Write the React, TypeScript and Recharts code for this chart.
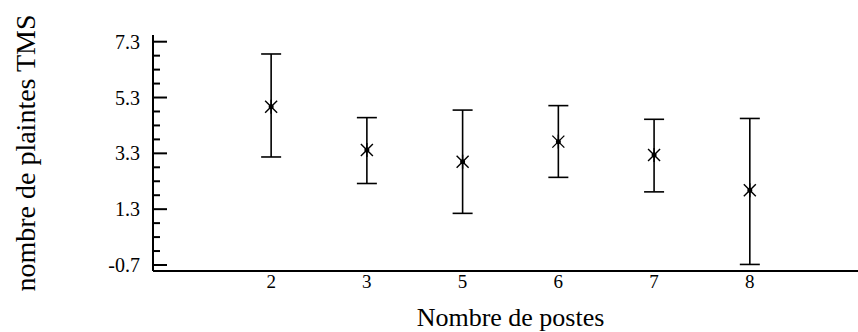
import React from 'react';
import { ScatterChart, Scatter, XAxis, YAxis, ErrorBar, Label } from 'recharts';

const categories = ['2', '3', '5', '6', '7', '8'];
const means = [4.97, 3.42, 3.0, 3.72, 3.24, 1.98];
const lows = [3.17, 2.22, 1.15, 2.44, 1.92, -0.68];
const highs = [6.86, 4.58, 4.85, 5.01, 4.52, 4.55];
const majorTicks = [-0.7, 1.3, 3.3, 5.3, 7.3];
const minorTicks = [-0.2, 0.3, 0.8, 1.8, 2.3, 2.8, 3.8, 4.3, 4.8, 5.8, 6.3, 6.8];
const yDomain: [number, number] = [-0.915, 7.54];
const xDomain: [number, number] = [-1.234, 6.13];
const xTitle = 'Nombre de postes';
const yTitle = 'nombre de plaintes TMS';

const FONT = '"Liberation Serif", "Times New Roman", serif';

const data = categories.map((c, i) => ({
  x: i,
  y: means[i],
  err: [means[i] - lows[i], highs[i] - means[i]],
}));

const allYTicks = [...majorTicks, ...minorTicks].sort((a, b) => a - b);
const isMajor = (v: number) => majorTicks.some((m) => Math.abs(m - v) < 1e-6);

const LeftTick = (props: any) => {
  const { x, y, payload } = props;
  const axisX = x + 13;
  const major = isMajor(payload.value);
  return (
    <g>
      <line x1={axisX} y1={y} x2={axisX + (major ? 14 : 7)} y2={y} stroke="#000" strokeWidth={2} />
      {major && (
        <text x={x} y={y} textAnchor="end" dominantBaseline="central" fontFamily={FONT} fontSize={20} fill="#000">
          {payload.value.toFixed(1)}
        </text>
      )}
    </g>
  );
};

const RightTick = (props: any) => {
  const { x, y } = props;
  const axisX = x - 4;
  return <line x1={axisX - 5} y1={y} x2={axisX} y2={y} stroke="#000" strokeWidth={2} />;
};

const BottomTick = (props: any) => {
  const { x, y, payload } = props;
  return (
    <text x={x} y={y} textAnchor="middle" dy="0.71em" fontFamily={FONT} fontSize={19} fill="#000">
      {categories[payload.value]}
    </text>
  );
};

const Asterisk = (props: any) => {
  const { cx, cy } = props;
  if (cx == null || cy == null) return null;
  return (
    <g stroke="#000" strokeWidth={1.4}>
      <line x1={cx - 6} y1={cy - 6} x2={cx + 6} y2={cy + 6} />
      <line x1={cx - 6} y1={cy + 6} x2={cx + 6} y2={cy - 6} />
      <line x1={cx} y1={cy - 7} x2={cx} y2={cy + 7} />
      <circle cx={cx} cy={cy} r={1.8} fill="#000" />
    </g>
  );
};

export default function App() {
  return (
    <div style={{ position: 'absolute', left: 0, top: 0, width: 858, height: 332, background: '#fff' }}>
      <ScatterChart width={858} height={332} margin={{ top: 35, right: 0, bottom: 0, left: 0 }}>
        <XAxis
          xAxisId="b"
          type="number"
          dataKey="x"
          domain={xDomain}
          ticks={[0, 1, 2, 3, 4, 5]}
          tick={<BottomTick />}
          tickLine={false}
          tickSize={0}
          tickMargin={4}
          height={61}
          axisLine={{ stroke: '#000', strokeWidth: 2 }}
          allowDataOverflow
        >
          <Label
            content={(p: any) => {
              const vb = p.viewBox || {};
              return (
                <text x={vb.x + vb.width / 2 + 5} y={326} textAnchor="middle" fontFamily={FONT} fontSize={26} fill="#000">
                  {xTitle}
                </text>
              );
            }}
          />
        </XAxis>
        <XAxis
          xAxisId="t"
          orientation="top"
          type="number"
          dataKey="x"
          domain={xDomain}
          tick={false}
          tickLine={false}
          height={0}
          axisLine={{ stroke: '#000', strokeWidth: 2 }}
          allowDataOverflow
        />
        <YAxis
          yAxisId="l"
          type="number"
          dataKey="y"
          domain={yDomain}
          ticks={allYTicks}
          interval={0}
          tick={<LeftTick />}
          tickLine={false}
          tickSize={0}
          tickMargin={13}
          width={153}
          axisLine={{ stroke: '#000', strokeWidth: 2 }}
          allowDataOverflow
        >
          <Label
            content={(p: any) => {
              const vb = p.viewBox || {};
              const cx = 25;
              const cy = vb.y + vb.height / 2;
              return (
                <text
                  x={cx}
                  y={cy}
                  transform={`rotate(-90, ${cx}, ${cy})`}
                  textAnchor="middle"
                  dominantBaseline="central"
                  fontFamily={FONT}
                  fontSize={28}
                  fill="#000"
                >
                  {yTitle}
                </text>
              );
            }}
          />
        </YAxis>
        <YAxis
          yAxisId="r"
          orientation="right"
          type="number"
          domain={yDomain}
          ticks={majorTicks}
          interval={0}
          tick={<RightTick />}
          tickLine={false}
          tickSize={0}
          tickMargin={4}
          width={0}
          axisLine={false}
          allowDataOverflow
        />
        <Scatter
          xAxisId="b"
          yAxisId="l"
          data={data}
          dataKey="y"
          shape={<Asterisk />}
          isAnimationActive={false}
        >
          <ErrorBar dataKey="err" direction="y" width={10} stroke="#000" strokeWidth={1.6} isAnimationActive={false} />
        </Scatter>
      </ScatterChart>
    </div>
  );
}
